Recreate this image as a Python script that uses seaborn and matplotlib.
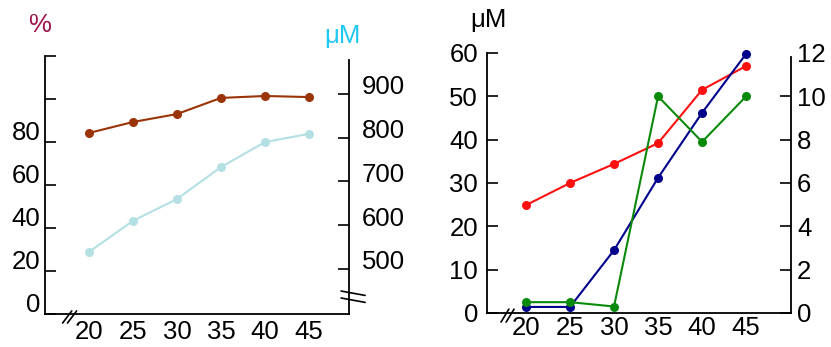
import matplotlib
matplotlib.use("Agg")
import matplotlib.pyplot as plt
import matplotlib.transforms as mtransforms
import seaborn as sns

# data
temps = [20, 25, 30, 35, 40, 45]
pct_vals = [84.2, 89.3, 93.0, 100.5, 101.4, 100.9]        # left panel, % axis
um_left_vals = [539, 610, 660, 733, 790, 809]               # left panel, uM axis
red_vals = [24.9, 30.0, 34.4, 39.2, 51.5, 57.0]             # right panel, 0-60 axis
navy_vals = [1.4, 1.4, 14.5, 31.2, 46.2, 59.8]              # right panel, 0-60 axis
green_vals = [0.5, 0.5, 0.3, 10.0, 7.9, 10.0]               # right panel, 0-12 axis

pct_ticks = [0, 20, 40, 60, 80, 100, 120]
pct_labels = ["0", "20", "40", "60", "80", "", ""]
um_ticks = [500, 600, 700, 800, 900]
right_left_ticks = [0, 10, 20, 30, 40, 50, 60]
right_right_ticks = [0, 2, 4, 6, 8, 10, 12]

sns.set_style("white")
plt.rcParams["font.family"] = ["Liberation Sans", "DejaVu Sans"]
plt.rcParams["font.size"] = 18.5
plt.rcParams["text.color"] = "black"
plt.rcParams["xtick.color"] = "black"
plt.rcParams["ytick.color"] = "black"
plt.rcParams["xtick.labelcolor"] = "black"
plt.rcParams["ytick.labelcolor"] = "black"

fig = plt.figure(figsize=(8.31, 3.47), dpi=100)
ax1 = fig.add_axes([45 / 831, 33 / 347, 304 / 831, 258 / 347])
ax2 = fig.add_axes([487 / 831, 34 / 347, 304 / 831, 260 / 347])
ax1b = ax1.twinx()
ax2b = ax2.twinx()

lw = 1.5
ms = 6.5


def line(ax, y, color):
    sns.lineplot(x=temps, y=y, ax=ax, color=color, linewidth=lw, marker="o",
                 markersize=ms, markeredgewidth=0, legend=False)
    ax.lines[-1].set_clip_on(False)


# left panel
line(ax1, pct_vals, "#9a3306")
line(ax1b, um_left_vals, "#b4e0e4")
ax1.set_xlim(15.0, 49.55)
ax1.set_ylim(0, 120)
ax1b.set_ylim(397.1, 986.8)

# right panel
line(ax2, red_vals, "#ff1010")
line(ax2, navy_vals, "#00008b")
line(ax2b, green_vals, "#0a8a0a")
ax2.set_xlim(15.57, 50.1)
ax2.set_ylim(0, 60)
ax2b.set_ylim(0, 12)

for a in (ax1, ax1b, ax2, ax2b):
    for s in a.spines.values():
        s.set_visible(False)
        s.set_color("black")
        s.set_linewidth(1.3)
    a.set_xlabel("")
    a.set_ylabel("")
    a.tick_params(axis="y", direction="in", length=8, width=1.2,
                  colors="black", labelcolor="black")
    a.tick_params(axis="x", length=0, labelcolor="black")

for a in (ax1, ax2):
    a.spines["left"].set_visible(True)
    a.spines["bottom"].set_visible(True)
    a.set_xticks(temps)
    a.set_xticklabels([str(t) for t in temps])

ax1.tick_params(axis="x", pad=4.5)
ax2.tick_params(axis="x", pad=2)

ax1.set_yticks(pct_ticks)
ax1.set_yticklabels(pct_labels)
ax1.tick_params(axis="y", pad=3.5)
shift = mtransforms.ScaledTranslation(0, 8 / 72, fig.dpi_scale_trans)
for lab in ax1.get_yticklabels():
    lab.set_transform(lab.get_transform() + shift)

ax1b.spines["right"].set_visible(True)
ax1b.spines["right"].set_bounds(397.1, 977)
ax1b.set_yticks(um_ticks)
ax1b.tick_params(axis="y", pad=9)
shift_r = mtransforms.ScaledTranslation(0, 6.5 / 72, fig.dpi_scale_trans)
for lab in ax1b.get_yticklabels():
    lab.set_transform(lab.get_transform() + shift_r)

ax2.set_yticks(right_left_ticks)
ax2.tick_params(axis="y", pad=6.5)

ax2b.spines["right"].set_visible(True)
ax2b.spines["right"].set_bounds(0, 11.8)
ax2b.set_yticks(right_right_ticks)
ax2b.tick_params(axis="y", pad=4.5)
ax2b.yaxis.get_major_ticks()[-1].tick2line.set_visible(False)

# axis break marks
kw = dict(color="black", linewidth=1.2, clip_on=False)
for x0 in (0.058, 0.074):
    ax1.plot([x0, x0 + 0.03], [-0.035, 0.012], transform=ax1.transAxes, **kw)
for y0 in (0.089, 0.062):
    ax1.plot([0.974, 1.053], [y0, y0 - 0.017], transform=ax1.transAxes, **kw)
for x0 in (0.046, 0.063):
    ax2.plot([x0, x0 + 0.026], [-0.035, 0.015], transform=ax2.transAxes, **kw)

# unit labels
fig.text(40 / 831, 1 - 25 / 347, "%", color="#a0144b", ha="center", va="center", fontsize=18.5)
fig.text(342 / 831, 1 - 36 / 347, "μM", color="#1ec8f5", ha="center", va="center", fontsize=18.5)
fig.text(488 / 831, 1 - 20 / 347, "μM", color="black", ha="center", va="center", fontsize=18.5)

fig.savefig("out.png", dpi=100)
